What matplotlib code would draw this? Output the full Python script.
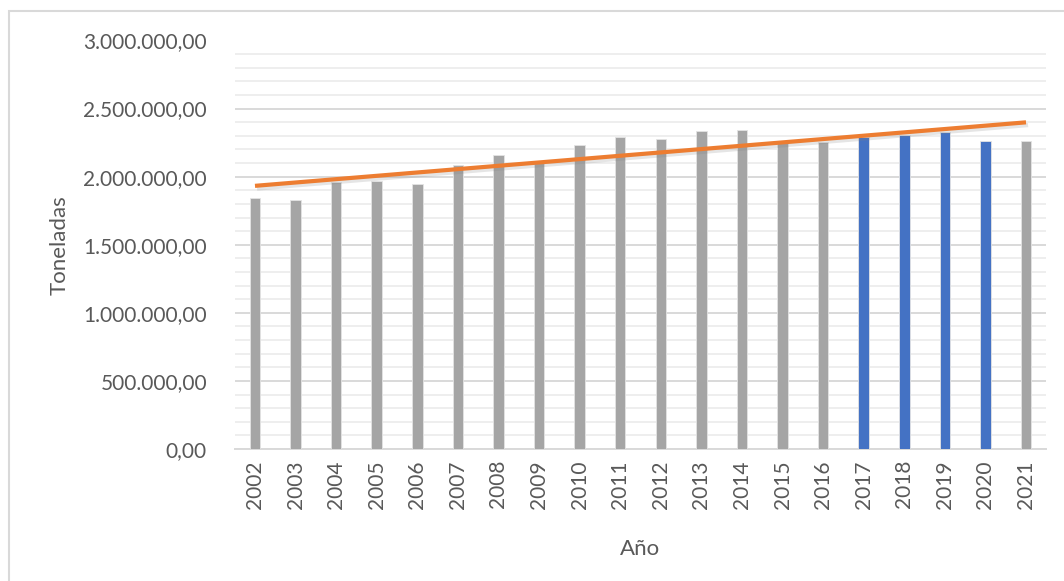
import numpy as np
import matplotlib.pyplot as plt
import matplotlib.patheffects as pe
from matplotlib.patches import Rectangle
from matplotlib.ticker import FuncFormatter, MultipleLocator

years = [2002, 2003, 2004, 2005, 2006, 2007, 2008, 2009, 2010, 2011,
         2012, 2013, 2014, 2015, 2016, 2017, 2018, 2019, 2020, 2021]
toneladas = [1841000, 1827000, 1961000, 1968000, 1949000, 2083000, 2157000,
             2100000, 2235000, 2291000, 2279000, 2338000, 2345000, 2245000,
             2252000, 2290000, 2308000, 2325000, 2261000, 2261000]
highlight = [2017, 2018, 2019, 2020]

GREY = '#A5A5A5'
BLUE = '#4472C4'
ORANGE = '#ED7D31'
TXT = '#595959'

plt.rcParams['font.family'] = ['Lato', 'DejaVu Sans']

fig = plt.figure(figsize=(10.64, 5.81), dpi=100)
ax = fig.add_axes([234.7 / 1064, 1 - 449 / 581, (1046.3 - 234.7) / 1064, (449 - 40.5) / 581])

# chart border (Excel chart area)
fig.patches.append(Rectangle((9 / 1064, -0.1), 1.2, 1 - 11 / 581 + 0.1,
                             transform=fig.transFigure, fill=False,
                             edgecolor='#d9d9d9', linewidth=1.5))

x = np.arange(len(years))
colors = [BLUE if y in highlight else GREY for y in years]
ax.bar(x, toneladas, width=0.26, color=colors, edgecolor='#e4e4e4', linewidth=0.6, zorder=3)

# linear trend line
coef = np.polyfit(x, toneladas, 1)
trend = np.polyval(coef, x)
ax.plot(x, trend, color=ORANGE, linewidth=3, solid_capstyle='butt', zorder=4,
        path_effects=[pe.SimpleLineShadow(offset=(1.5, -2), alpha=0.2, shadow_color='#808080'),
                      pe.Normal()])

ax.set_xlim(-0.5, len(years) - 0.5)
ax.set_ylim(0, 3000000)
ax.yaxis.set_major_locator(MultipleLocator(500000))
ax.yaxis.set_minor_locator(MultipleLocator(100000))
ax.grid(axis='y', which='major', color='#d9d9d9', linewidth=1.4, zorder=0)
ax.grid(axis='y', which='minor', color='#eeeeee', linewidth=1.4, zorder=0)
ax.set_axisbelow(True)

def fmt(v, pos):
    s = '{:,.2f}'.format(v)
    return s.replace(',', 'X').replace('.', ',').replace('X', '.')

ax.yaxis.set_major_formatter(FuncFormatter(fmt))
ax.set_xticks(x)
ax.set_xticklabels([str(y) for y in years], rotation=90)
ax.tick_params(axis='both', which='both', length=0, colors=TXT, labelsize=15)
ax.tick_params(axis='y', pad=20)
ax.tick_params(axis='x', pad=8)

for s in ['top', 'right', 'left']:
    ax.spines[s].set_visible(False)
ax.spines['bottom'].set_color('#d9d9d9')
ax.spines['bottom'].set_linewidth(1.4)

ax.set_xlabel('Año', fontsize=16, color=TXT, labelpad=22)
ax.set_ylabel('Toneladas', fontsize=16, color=TXT, labelpad=10)

fig.savefig('out.png', dpi=100)
